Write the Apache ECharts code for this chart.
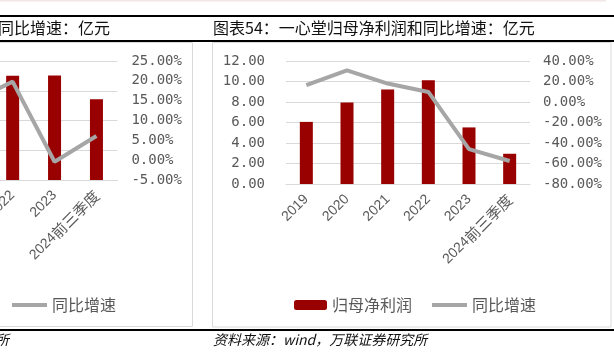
<!DOCTYPE html>
<html>
<head>
<meta charset="utf-8">
<script src="https://cdn.jsdelivr.net/npm/echarts@6/dist/echarts.min.js"></script>
<style>
  html, body { margin: 0; padding: 0; background: #fff; overflow: hidden; }
  #page { position: relative; width: 614px; height: 354px; overflow: hidden; }
  #main { position: absolute; left: 0; top: 0; width: 614px; height: 354px; }
  /* the left chart is cut off by the page edge, as in the source picture */
  #left { position: absolute; left: -300px; top: 0; width: 500px; height: 354px; }
</style>
</head>
<body>
<div id="page">
  <div id="main"></div>
  <div id="left"></div>
</div>
<script>
// left panel (cut off): revenue and yoy
var categories = ['2019', '2020', '2021', '2022', '2023', '2024前三季度'];
var revenue = [104.8, 126.6, 145.9, 175.3, 175.5, 135.6];
var revenueYoy = [15.5, 20.8, 14.6, 19.8, -0.4, 6.1];
// right panel: net profit attributable to parent and yoy
var netProfit = [6.06, 7.95, 9.21, 10.12, 5.52, 2.95];
var netProfitYoy = [16.4, 30.9, 18.0, 9.8, -45.9, -57.6];
// axis ranges [min, max, interval]
var revenueAxis = [0, 200, 50];
var revenueYoyAxis = [-5, 25, 5];
var profitAxis = [0, 12, 2];
var profitYoyAxis = [-80, 40, 20];

var grey = '#595959';
var gridColor = '#d9d9d9';
var barColor = '#990000';
var lineColor = '#a6a6a6';
var cjk = '"Noto Sans CJK SC"';
var mono = '"DejaVu Sans Mono"';

// year digits and the chinese suffix get slightly different sizes
function catLabel(v) {
  var m = v.match(/^(\d+)(.*)$/);
  if (!m || !m[2]) return '{d|' + v + '}';
  return '{d|' + m[1] + '}{c|' + m[2] + '}';
}

function xAxisOf() {
  return {
    type: 'category',
    data: categories,
    axisLine: { lineStyle: { color: gridColor } },
    axisTick: { show: false },
    axisLabel: {
      rotate: 45, interval: 0, margin: 13,
      color: grey, fontSize: 14, fontFamily: '"Liberation Sans"',
      formatter: catLabel,
      rich: {
        d: { fontSize: 14, color: grey, fontFamily: '"Liberation Sans"' },
        c: { fontSize: 15, color: grey, fontFamily: cjk }
      }
    }
  };
}

function valueAxis(range, pos, margin, fmt, split) {
  return {
    type: 'value',
    position: pos,
    min: range[0], max: range[1], interval: range[2],
    axisLine: { show: false },
    axisTick: { show: false },
    splitLine: { show: split, lineStyle: { color: gridColor, width: 1 } },
    axisLabel: {
      margin: margin, color: grey, fontSize: 14, fontFamily: mono,
      formatter: fmt
    }
  };
}

function num(v) { return v.toFixed(2); }
function pct(v) { return v.toFixed(2) + '%'; }

var legendText = { fontSize: 16, color: grey, fontFamily: cjk };

function legends(barName, barLeft, lineLeft) {
  return [
    {
      data: [barName], left: barLeft, top: 297, padding: 0,
      itemWidth: 33, itemHeight: 10, textStyle: legendText
    },
    {
      data: [{ name: '同比增速', icon: 'rect' }], left: lineLeft, top: 297, padding: 0,
      itemWidth: 35, itemHeight: 4, textStyle: legendText
    }
  ];
}

function buildSeries(barName, bars, yoy) {
  return [
    {
      name: barName, type: 'bar', yAxisIndex: 0,
      data: bars, barWidth: 13, itemStyle: { color: barColor }
    },
    {
      name: '同比增速', type: 'line', yAxisIndex: 1,
      data: yoy, symbol: 'none',
      lineStyle: { color: lineColor, width: 4 }, itemStyle: { color: lineColor }
    }
  ];
}

// left chart, shifted 300px off the page
var leftChart = echarts.init(document.getElementById('left'));
leftChart.setOption({
  animation: false,
  backgroundColor: 'transparent',
  grid: { left: 166, top: 61, width: 251.4, height: 119 },
  xAxis: xAxisOf(),
  yAxis: [
    valueAxis(revenueAxis, 'left', 20, num, true),
    valueAxis(revenueYoyAxis, 'right', 14, pct, false)
  ],
  legend: legends('营业收入', 191, 312),
  series: buildSeries('营业收入', revenue, revenueYoy)
});

var mainChart = echarts.init(document.getElementById('main'));
mainChart.setOption({
  animation: false,
  backgroundColor: 'transparent',
  grid: { left: 286, top: 61, width: 244, height: 123 },
  xAxis: xAxisOf(),
  yAxis: [
    valueAxis(profitAxis, 'left', 21, num, true),
    valueAxis(profitYoyAxis, 'right', 13, pct, false)
  ],
  legend: legends('归母净利润', 294, 432),
  series: buildSeries('归母净利润', netProfit, netProfitYoy),
  graphic: [
    // page frame lines
    { type: 'rect', shape: { x: 0, y: 0, width: 606, height: 1.5 }, style: { fill: '#f2e6e7' } },
    { type: 'rect', shape: { x: 0, y: 15, width: 614, height: 2 }, style: { fill: '#000' } },
    { type: 'rect', shape: { x: 0, y: 40, width: 614, height: 2 }, style: { fill: '#000' } },
    { type: 'rect', shape: { x: 0, y: 329, width: 614, height: 2 }, style: { fill: '#000' } },
    // chart boxes
    { type: 'rect', shape: { x: -10, y: 42.5, width: 202.5, height: 284 },
      style: { fill: 'none', stroke: gridColor, lineWidth: 1 } },
    { type: 'rect', shape: { x: 212.5, y: 42.5, width: 398.5, height: 284.5 },
      style: { fill: 'none', stroke: gridColor, lineWidth: 1 } },
    // titles
    { type: 'text', x: 110, y: 28,
      style: { text: '同比增速：亿元', align: 'right', verticalAlign: 'middle',
               font: '16px ' + cjk, fill: '#111' } },
    { type: 'text', x: 213, y: 28,
      style: { text: '图表54：一心堂归母净利润和同比增速：亿元', verticalAlign: 'middle',
               font: '16px ' + cjk, fill: '#111' } },
    // sources
    { type: 'text', x: 9, y: 340,
      style: { text: '资料来源：wind，万联证券研究所', align: 'right', verticalAlign: 'middle',
               font: 'italic 14px ' + cjk, fill: '#111' } },
    { type: 'text', x: 213, y: 340,
      style: { text: '资料来源：wind，万联证券研究所', verticalAlign: 'middle',
               font: 'italic 14px ' + cjk, fill: '#111' } }
  ]
});
</script>
</body>
</html>
